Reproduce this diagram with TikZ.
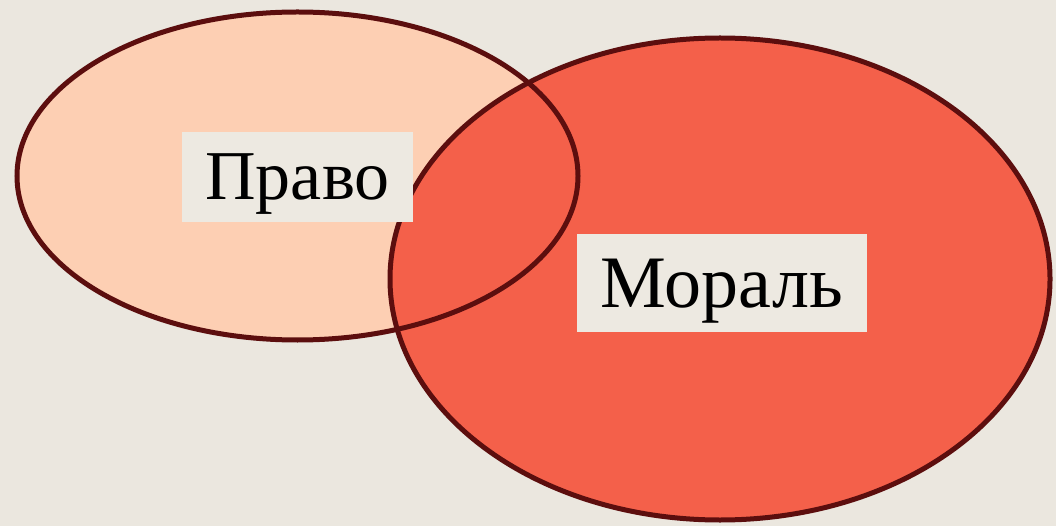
\documentclass[tikz,border=0pt]{standalone}
\usepackage{fontspec}
\setmainfont{Liberation Serif}
\usepackage{tikz}
\usetikzlibrary{positioning}
\definecolor{paper}{HTML}{EBE7DF}
\definecolor{peach}{HTML}{FDCFB3}
\definecolor{redfill}{HTML}{F4604A}
\definecolor{rim}{HTML}{5C0E0E}
\definecolor{labelbox}{HTML}{EDE9E1}

\begin{document}
\begin{tikzpicture}[
  x=1pt,y=-1pt,
  rimline/.style={draw=rim,line width=5pt},
  tag/.style={fill=labelbox,inner sep=0pt,align=center,text depth=0pt}
]
\fill[paper] (0,0) rectangle (1056,526);
\useasboundingbox (0,0) rectangle (1056,526);
\coordinate (pravoC) at (297.5,176);
\coordinate (moralC) at (720,279);
% fills first, rims on top
\fill[peach] (pravoC) ellipse [x radius=280.5,y radius=164];
\fill[redfill] (moralC) ellipse [x radius=330,y radius=241];
\draw[rimline] (pravoC) ellipse [x radius=280.5,y radius=164];
\draw[rimline] (moralC) ellipse [x radius=330,y radius=241];
\node[tag,minimum width=231pt,minimum height=90pt,text height=45pt,font=\fontsize{70}{72}\selectfont] (pravo) at (297.5,177) {Право};
\node[tag,minimum width=290pt,minimum height=98pt,text height=49pt,font=\fontsize{74}{76}\selectfont] (moral) at (722,283) {Мораль};
\end{tikzpicture}
\end{document}
